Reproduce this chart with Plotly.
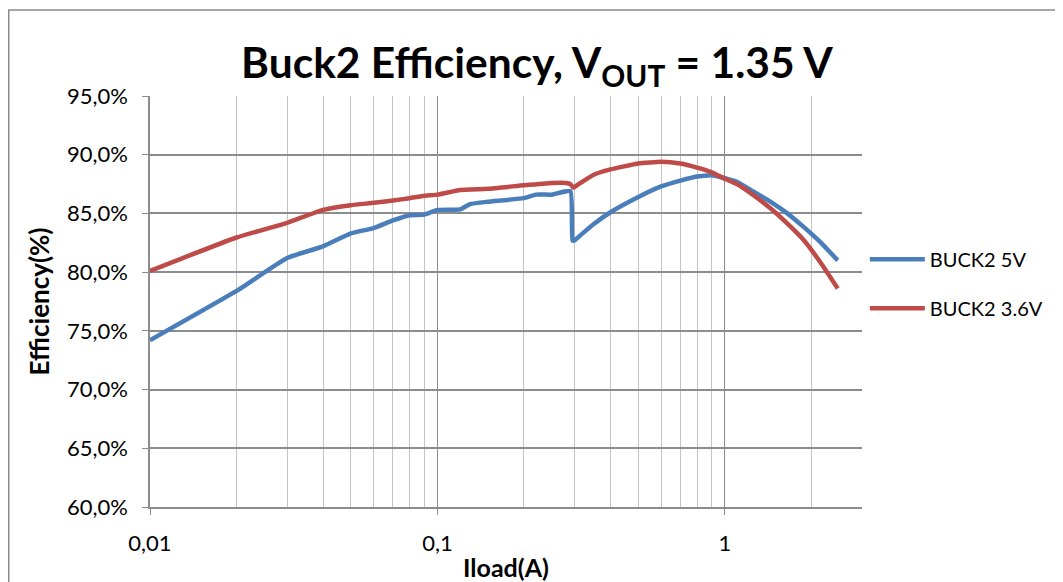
import plotly.graph_objects as go

# ---- data ----
x_5v = [0.01, 0.02, 0.03, 0.04, 0.05, 0.06, 0.07, 0.08, 0.09, 0.1, 0.12, 0.13, 0.15,
        0.2, 0.22, 0.25, 0.29, 0.295, 0.3, 0.32, 0.35, 0.4, 0.5, 0.6, 0.7, 0.8, 0.9, 1.0,
        1.1, 1.25, 1.43, 1.64, 1.87, 2.14, 2.47]
eff_5v = [74.2, 78.4, 81.2, 82.2, 83.3, 83.75, 84.4, 84.85, 84.9, 85.3, 85.35, 85.8, 86.0,
          86.3, 86.6, 86.6, 86.9, 82.7, 82.7, 83.3, 84.1, 85.1, 86.4, 87.3, 87.8, 88.15, 88.25, 88.0,
          87.7, 86.9, 86.05, 85.05, 83.9, 82.6, 81.0]

x_36v = [0.01, 0.02, 0.03, 0.04, 0.05, 0.06, 0.07, 0.08, 0.09, 0.1, 0.12, 0.15, 0.2,
         0.25, 0.28, 0.29, 0.297, 0.31, 0.35, 0.4, 0.5, 0.6, 0.7, 0.8, 0.9, 1.0,
         1.1, 1.25, 1.43, 1.64, 1.87, 2.14, 2.47]
eff_36v = [80.1, 82.95, 84.2, 85.3, 85.7, 85.9, 86.1, 86.3, 86.5, 86.6, 87.0, 87.1, 87.4,
           87.6, 87.6, 87.5, 87.2, 87.5, 88.3, 88.75, 89.25, 89.4, 89.25, 88.9, 88.5, 87.95,
           87.5, 86.6, 85.5, 84.2, 82.8, 80.9, 78.6]

series_names = ["BUCK2 5V", "BUCK2 3.6V"]
x_ticks = [0.01, 0.1, 1]
x_tick_labels = ["0,01", "0,1", "1"]
y_ticks = [60, 65, 70, 75, 80, 85, 90, 95]
y_tick_labels = [f"{v:.1f}%".replace(".", ",") for v in y_ticks]

FONT = "Lato"
fig = go.Figure()
fig.add_trace(go.Scatter(x=x_5v, y=eff_5v, mode="lines", name=series_names[0],
                         legendgroup="a", line_shape="spline", line_smoothing=0.4,
                         line=dict(color="#4A7EBB", width=4.5)))
fig.add_trace(go.Scatter(x=x_36v, y=eff_36v, mode="lines", name=series_names[1],
                         legendgroup="b", line_shape="spline", line_smoothing=0.4,
                         line=dict(color="#BE4B48", width=4.5)))

fig.update_layout(
    width=1055, height=574,
    margin=dict(l=142, r=201, t=88, b=75),
    paper_bgcolor="white", plot_bgcolor="white",
    font=dict(family=FONT, size=22, color="black"),
    title=dict(text="<b>Buck2 Efficiency, V<sub>OUT</sub> = 1.35 V</b>",
               x=0.5014, xanchor="center", y=0.904, yanchor="middle",
               font=dict(family=FONT, size=42.5, color="black")),
    showlegend=True,
    legend=dict(x=1.004, y=0.543, xanchor="left", yanchor="middle",
                font=dict(family=FONT, size=20), tracegroupgap=20,
                itemwidth=55, bgcolor="rgba(0,0,0,0)"),
    shapes=[dict(type="rect", xref="paper", yref="paper",
                 x0=-0.1984, x1=1.5, y0=-0.3, y1=1.2092,
                 line=dict(color="#8a8a8a", width=1.5), layer="below")],
)

fig.update_xaxes(
    type="log", range=[-2, 0.4771], automargin=False,
    tickvals=x_ticks, ticktext=x_tick_labels,
    showgrid=True, gridcolor="#8c8c8c", gridwidth=1.2,
    minor=dict(showgrid=True, gridcolor="#c4c4c4", gridwidth=1, dtick="D1",
               ticks=""),
    ticks="outside", ticklen=6, tickcolor="#8c8c8c",
    showline=True, linecolor="#8c8c8c", linewidth=1.5, mirror=False,
    tickfont=dict(size=22), ticklabelstandoff=10,
    title=dict(text="<b>Iload(A)</b>", font=dict(size=25), standoff=4),
    zeroline=False,
)
fig.update_yaxes(
    range=[60, 95], automargin=False,
    tickvals=y_ticks, ticktext=y_tick_labels,
    showgrid=True, gridcolor="#8c8c8c", gridwidth=1.5,
    ticks="outside", ticklen=6, tickcolor="#8c8c8c",
    showline=True, linecolor="#8c8c8c", linewidth=1.5,
    tickfont=dict(size=22), ticklabelstandoff=10,
    title=dict(text="<b>Efficiency(%)</b>", font=dict(size=26), standoff=10),
    zeroline=False,
)

fig.write_html("out.html")
